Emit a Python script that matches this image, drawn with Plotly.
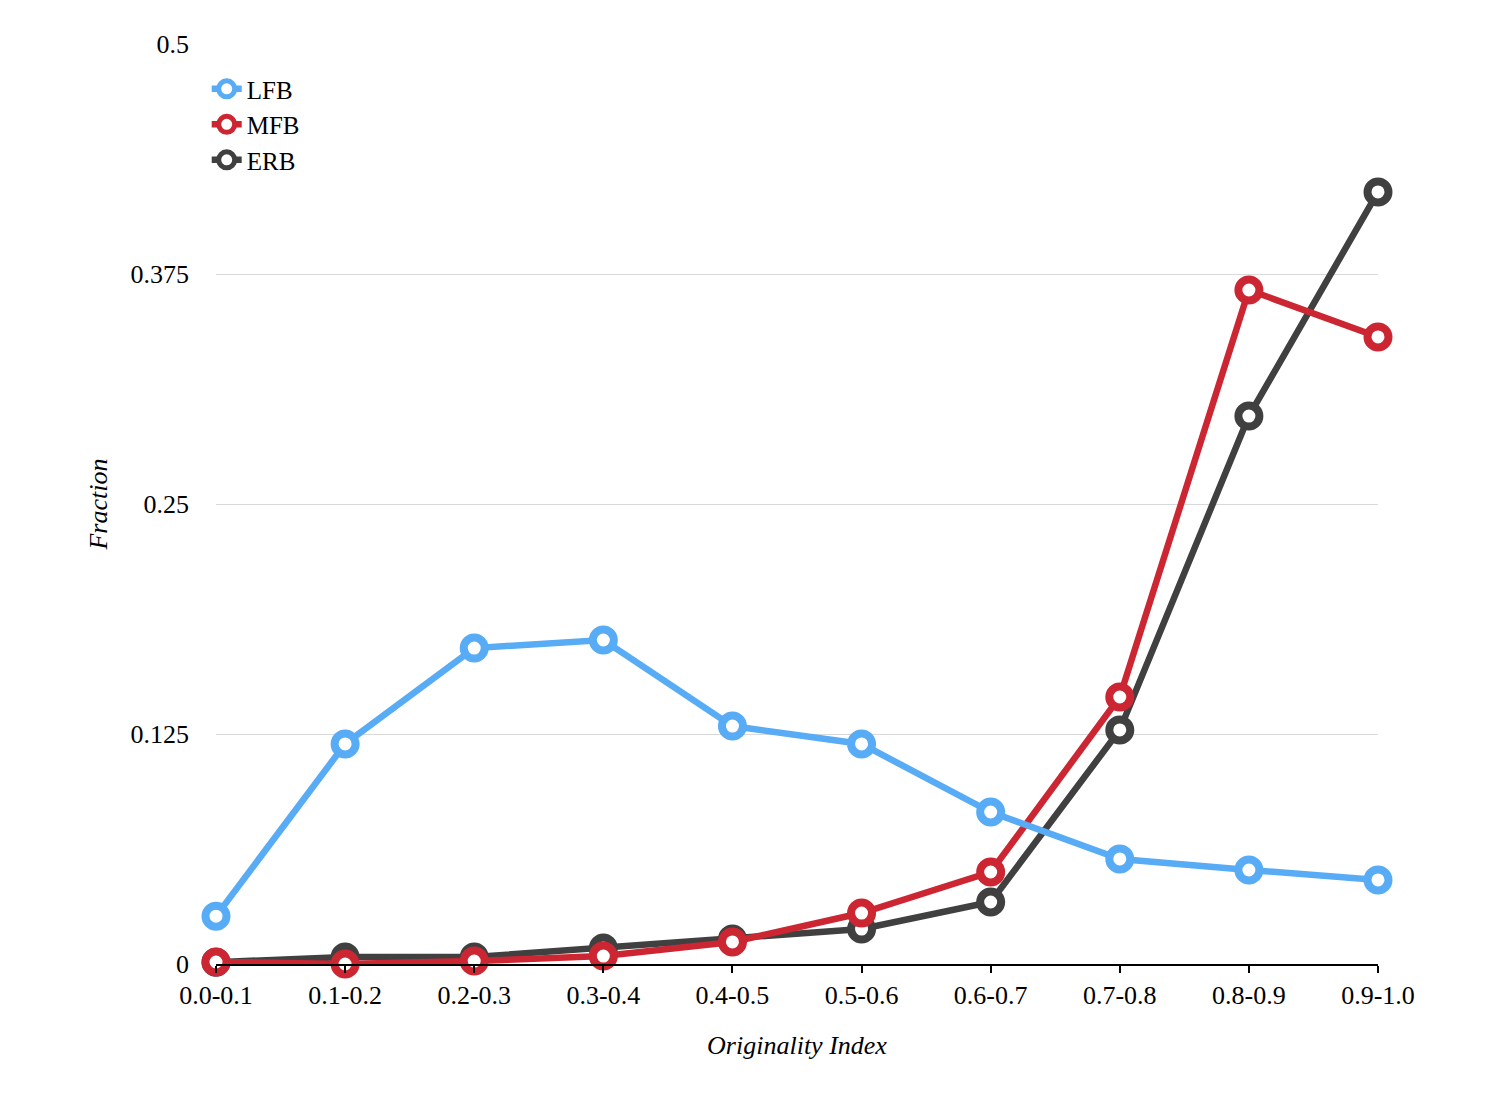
import plotly.graph_objects as go

categories = ["0.0-0.1", "0.1-0.2", "0.2-0.3", "0.3-0.4", "0.4-0.5",
              "0.5-0.6", "0.6-0.7", "0.7-0.8", "0.8-0.9", "0.9-1.0"]
lfb = [0.026, 0.1196, 0.1717, 0.1761, 0.1293, 0.1196, 0.0826, 0.0571, 0.0511, 0.0457]
mfb = [0.0011, 0.0, 0.0016, 0.0043, 0.012, 0.0277, 0.050, 0.1451, 0.3663, 0.3408]
erb = [0.001, 0.0038, 0.0038, 0.0087, 0.0136, 0.019, 0.0337, 0.1272, 0.2978, 0.4196]
y_ticks = [0, 0.125, 0.25, 0.375, 0.5]
y_tick_labels = ["0", "0.125", "0.25", "0.375", "0.5"]

series = [("ERB", erb, "#404040", 3), ("MFB", mfb, "#CC2632", 2), ("LFB", lfb, "#58ABF5", 1)]

fig = go.Figure()
x_idx = list(range(len(categories)))
for name, vals, color, rank in series:
    fig.add_trace(go.Scatter(
        x=x_idx, y=vals, name=name, mode="lines+markers",
        line=dict(color=color, width=6.5),
        marker=dict(symbol="circle", size=21, color="white",
                    line=dict(color=color, width=8)),
        cliponaxis=False, legendrank=rank,
    ))

font_family = "Liberation Serif, Times New Roman, serif"
fig.update_layout(
    width=1510, height=1112,
    margin=dict(l=216, r=132, t=44, b=148),
    paper_bgcolor="white", plot_bgcolor="white",
    font=dict(family=font_family, size=26, color="black"),
    showlegend=True,
    legend=dict(x=-0.008, y=0.976, xanchor="left", yanchor="top",
                bgcolor="rgba(0,0,0,0)", font=dict(size=25),
                tracegroupgap=0, itemwidth=30),
    xaxis=dict(
        range=[0, 9], tickmode="array", tickvals=x_idx, ticktext=categories,
        showgrid=False, zeroline=False, showline=True, linecolor="black",
        linewidth=2, ticks="outside", ticklen=7, tickwidth=2, tickcolor="black",
        title=dict(text="<i>Originality Index</i>", font=dict(size=26), standoff=27),
        tickfont=dict(size=26),
    ),
    yaxis=dict(
        range=[0, 0.5], tickmode="array", tickvals=y_ticks, ticktext=y_tick_labels,
        showgrid=True, gridcolor="#d9d9d9", gridwidth=1, zeroline=False,
        showline=False, ticks="", ticklabelstandoff=26,
        title=dict(text="<i>Fraction</i>", font=dict(size=26), standoff=15),
        tickfont=dict(size=26),
    ),
)

fig.write_html("out.html")
